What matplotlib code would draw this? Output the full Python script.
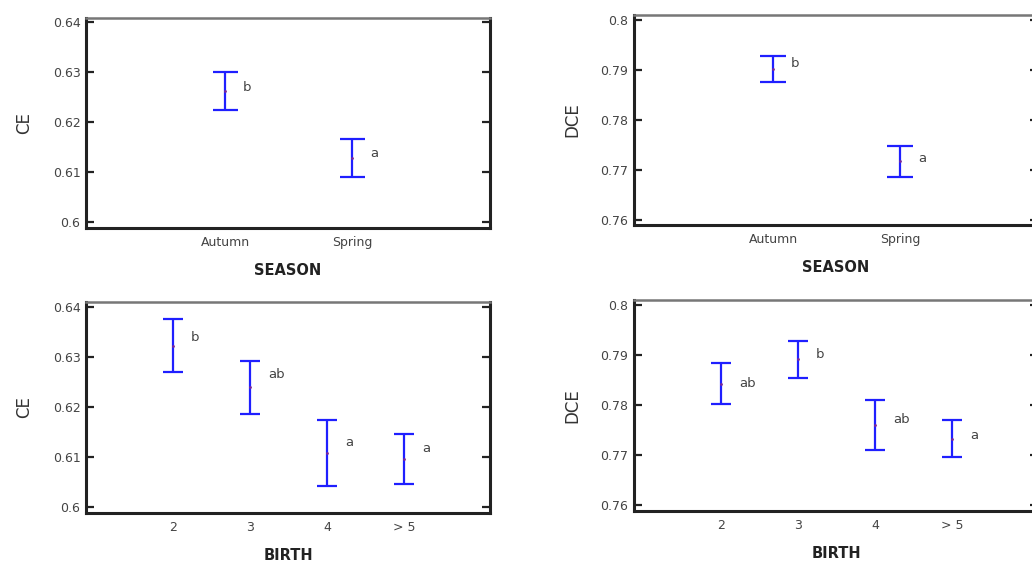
import matplotlib
matplotlib.use("Agg")
import matplotlib.pyplot as plt

# valores (limite inferior, media, limite superior)

season_cats = ["Autumn", "Spring"]
ce_season_low = [0.6224, 0.6090]
ce_season_mean = [0.6262, 0.6128]
ce_season_high = [0.6300, 0.6166]
ce_season_letters = ["b", "a"]

dce_season_low = [0.7876, 0.7686]
dce_season_mean = [0.7902, 0.7717]
dce_season_high = [0.7928, 0.7748]
dce_season_letters = ["b", "a"]

birth_cats = ["2", "3", "4", "> 5"]
ce_birth_low = [0.6269, 0.6185, 0.6041, 0.6045]
ce_birth_mean = [0.6322, 0.6239, 0.6107, 0.6095]
ce_birth_high = [0.6375, 0.6292, 0.6173, 0.6145]
ce_birth_letters = ["b", "ab", "a", "a"]

dce_birth_low = [0.7801, 0.7853, 0.7710, 0.7695]
dce_birth_mean = [0.7842, 0.7891, 0.7760, 0.7732]
dce_birth_high = [0.7883, 0.7928, 0.7809, 0.7769]
dce_birth_letters = ["ab", "b", "ab", "a"]

ce_ticks = [0.60, 0.61, 0.62, 0.63, 0.64]
ce_ticklabels = ["0.6", "0.61", "0.62", "0.63", "0.64"]
dce_ticks = [0.76, 0.77, 0.78, 0.79, 0.80]
dce_ticklabels = ["0.76", "0.77", "0.78", "0.79", "0.8"]

# altura das letras no eixo y
ce_season_lety = [0.6270, 0.6138]
dce_season_lety = [0.7912, 0.7722]
ce_birth_lety = [0.6338, 0.6264, 0.6128, 0.6116]
dce_birth_lety = [0.7843, 0.7900, 0.7770, 0.7738]

AZUL = "#1f1fff"
CINZA = "#444444"

fig = plt.figure(figsize=(10.32, 5.63), dpi=100)

def painel(pos, cats, low, mean, high, letters, lety, ticks, ticklabels,
           ylim, xlim, ylabel, xlabel, cap):
    ax = fig.add_axes(pos)
    x = list(range(1, len(cats) + 1))
    yerr = [[m - l for m, l in zip(mean, low)], [h - m for h, m in zip(high, mean)]]
    ax.errorbar(x, mean, yerr=yerr, fmt=".", color=AZUL, ecolor=AZUL,
                markersize=2, mfc="#7a2a9a", mec="#7a2a9a",
                elinewidth=1.6, capsize=cap, capthick=1.6)
    for xi, ly, let in zip(x, lety, letters):
        ax.annotate(let, (xi, ly), xytext=(13, 0), textcoords="offset points",
                    ha="left", va="center", fontsize=9.5, color=CINZA)
    ax.set_xlim(xlim)
    ax.set_ylim(ylim)
    ax.set_xticks(x)
    ax.set_xticklabels(cats)
    ax.set_yticks(ticks)
    ax.set_yticklabels(ticklabels)
    ax.tick_params(axis="y", direction="in", length=6, width=1.6, left=True,
                   right=True, labelsize=9, labelcolor=CINZA, pad=4, color="#222222")
    ax.tick_params(axis="x", length=0, labelsize=9, labelcolor=CINZA, pad=6)
    for lado in ["left", "bottom", "right"]:
        ax.spines[lado].set_linewidth(2.2)
        ax.spines[lado].set_color("#222222")
    ax.spines["top"].set_linewidth(1.8)
    ax.spines["top"].set_color("#777777")
    ax.set_ylabel(ylabel, fontsize=12, color="#333333", va="center")
    ax.yaxis.set_label_coords(-0.153, 0.5)
    ax.set_xlabel(xlabel, fontsize=10.5, fontweight="bold", color="#222222", labelpad=10)
    return ax

xlim_season = (-0.096, 3.089)
xlim_birth = (-0.13, 5.117)

painel([0.0833, 0.595, 0.3915, 0.373], season_cats, ce_season_low, ce_season_mean,
       ce_season_high, ce_season_letters, ce_season_lety, ce_ticks, ce_ticklabels,
       (0.5988, 0.6408), xlim_season, "CE", "SEASON", 9)
painel([0.6143, 0.6004, 0.3915, 0.373], season_cats, dce_season_low, dce_season_mean,
       dce_season_high, dce_season_letters, dce_season_lety, dce_ticks, dce_ticklabels,
       (0.759, 0.801), xlim_season, "DCE", "SEASON", 9.5)
painel([0.0833, 0.0888, 0.3915, 0.375], birth_cats, ce_birth_low, ce_birth_mean,
       ce_birth_high, ce_birth_letters, ce_birth_lety, ce_ticks, ce_ticklabels,
       (0.5988, 0.641), xlim_birth, "CE", "BIRTH", 7.5)
painel([0.6143, 0.0924, 0.3915, 0.375], birth_cats, dce_birth_low, dce_birth_mean,
       dce_birth_high, dce_birth_letters, dce_birth_lety, dce_ticks, dce_ticklabels,
       (0.7588, 0.801), xlim_birth, "DCE", "BIRTH", 7.5)

fig.savefig("out.png", dpi=100)
